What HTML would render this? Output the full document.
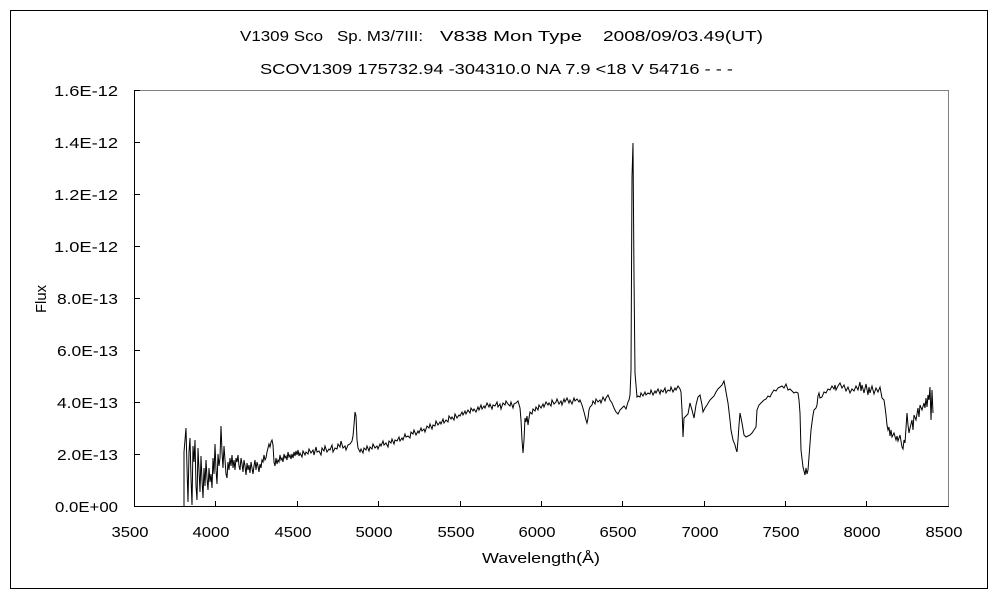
<!DOCTYPE html>
<html><head><meta charset="utf-8"><style>
html,body{margin:0;padding:0;background:#fff;}
svg{display:block;}
text{font-family:"Liberation Sans","Noto Sans CJK JP",sans-serif;font-size:15px;fill:#000;}
</style></head><body>
<svg width="1000" height="600" viewBox="0 0 1000 600" xmlns="http://www.w3.org/2000/svg">
<rect x="0" y="0" width="1000" height="600" fill="#fff"/>
<rect x="10.5" y="10.5" width="977" height="578" fill="none" stroke="#000" stroke-width="1"/>
<!-- titles -->
<text x="240" y="41" textLength="83" lengthAdjust="spacingAndGlyphs">V1309 Sco</text>
<text x="337" y="41" textLength="86" lengthAdjust="spacingAndGlyphs">Sp. M3/7III:</text>
<text x="440" y="41" textLength="142" lengthAdjust="spacingAndGlyphs">V838 Mon Type</text>
<text x="603" y="41" textLength="160" lengthAdjust="spacingAndGlyphs">2008/09/03.49(UT)</text>
<text x="260" y="74" textLength="473" lengthAdjust="spacingAndGlyphs">SCOV1309 175732.94 -304310.0 NA 7.9 &lt;18 V 54716 - - -</text>
<!-- plot frame -->
<line x1="134" y1="90.5" x2="948" y2="90.5" stroke="#808080" stroke-width="1"/>
<line x1="948.5" y1="90" x2="948.5" y2="506" stroke="#808080" stroke-width="1"/>
<line x1="134.5" y1="90" x2="134.5" y2="507" stroke="#000" stroke-width="1"/>
<line x1="134" y1="506.5" x2="949" y2="506.5" stroke="#000" stroke-width="1"/>
<!-- y ticks -->
<g stroke="#000" stroke-width="1">
<line x1="134" y1="454.5" x2="140" y2="454.5"/>
<line x1="134" y1="402.5" x2="140" y2="402.5"/>
<line x1="134" y1="350.5" x2="140" y2="350.5"/>
<line x1="134" y1="298.5" x2="140" y2="298.5"/>
<line x1="134" y1="246.5" x2="140" y2="246.5"/>
<line x1="134" y1="194.5" x2="140" y2="194.5"/>
<line x1="134" y1="142.5" x2="140" y2="142.5"/>
<line x1="134" y1="90.5" x2="140" y2="90.5"/>
<!-- x ticks -->
<line x1="215.5" y1="501" x2="215.5" y2="506"/>
<line x1="297.5" y1="501" x2="297.5" y2="506"/>
<line x1="378.5" y1="501" x2="378.5" y2="506"/>
<line x1="460.5" y1="501" x2="460.5" y2="506"/>
<line x1="541.5" y1="501" x2="541.5" y2="506"/>
<line x1="622.5" y1="501" x2="622.5" y2="506"/>
<line x1="704.5" y1="501" x2="704.5" y2="506"/>
<line x1="785.5" y1="501" x2="785.5" y2="506"/>
<line x1="866.5" y1="501" x2="866.5" y2="506"/>
</g>
<!-- y labels -->
<g text-anchor="end">
<text x="118" y="512" textLength="63" lengthAdjust="spacingAndGlyphs">0.0E+00</text>
<text x="118" y="460" textLength="61" lengthAdjust="spacingAndGlyphs">2.0E-13</text>
<text x="118" y="408" textLength="61" lengthAdjust="spacingAndGlyphs">4.0E-13</text>
<text x="118" y="356" textLength="61" lengthAdjust="spacingAndGlyphs">6.0E-13</text>
<text x="118" y="304" textLength="61" lengthAdjust="spacingAndGlyphs">8.0E-13</text>
<text x="118" y="252" textLength="64" lengthAdjust="spacingAndGlyphs">1.0E-12</text>
<text x="118" y="200" textLength="64" lengthAdjust="spacingAndGlyphs">1.2E-12</text>
<text x="118" y="148" textLength="64" lengthAdjust="spacingAndGlyphs">1.4E-12</text>
<text x="118" y="96" textLength="64" lengthAdjust="spacingAndGlyphs">1.6E-12</text>
</g>
<!-- x labels -->
<g text-anchor="middle">
<text x="130" y="537" textLength="37" lengthAdjust="spacingAndGlyphs">3500</text>
<text x="211" y="537" textLength="37" lengthAdjust="spacingAndGlyphs">4000</text>
<text x="293" y="537" textLength="37" lengthAdjust="spacingAndGlyphs">4500</text>
<text x="374" y="537" textLength="37" lengthAdjust="spacingAndGlyphs">5000</text>
<text x="456" y="537" textLength="37" lengthAdjust="spacingAndGlyphs">5500</text>
<text x="537" y="537" textLength="37" lengthAdjust="spacingAndGlyphs">6000</text>
<text x="618" y="537" textLength="37" lengthAdjust="spacingAndGlyphs">6500</text>
<text x="700" y="537" textLength="37" lengthAdjust="spacingAndGlyphs">7000</text>
<text x="781" y="537" textLength="37" lengthAdjust="spacingAndGlyphs">7500</text>
<text x="862" y="537" textLength="37" lengthAdjust="spacingAndGlyphs">8000</text>
<text x="944" y="537" textLength="37" lengthAdjust="spacingAndGlyphs">8500</text>
<text x="541" y="563" textLength="118" lengthAdjust="spacingAndGlyphs">Wavelength(Å)</text>
<text x="0" y="0" transform="translate(46,299) rotate(-90)" textLength="28" lengthAdjust="spacingAndGlyphs">Flux</text>
</g>
<!-- spectrum -->
<polyline fill="none" stroke="#000" stroke-width="1" stroke-linejoin="miter" points="
184,506 184,452 185,440 186,428 187,468 188,502 189,452 190,438 191,478 192,505 193,446 194,462 195,440 196,486 197,500 198,448 199,470 200,492 201,456 202,480 203,498 204,468 205,486 206,460 207,478 208,490 209,468 210,482 211,474 212,488 213,458 214,474 215,444 216,470 217,484 218,454 219,466 220,458 221,426 222,452 223,468 224,446 225,460 226,474 227,478 228,462 229,470 230,458
231,466 232,455 233,468 234,460 235,470 236,458 237,462 238,455 239,466 240,470 241,458 242,464 243,472 244,460 245,466 246,475 247,463 248,470 249,465 250,473 251,462 252,468 253,474 254,466 255,460 256,470 257,462 258,466 259,472 260,464 261,468 262,460 263,462 264,455 265,460 266,458 267,452 268,448 269,444 270,447 271,442 272,440 273,445 274,462 275,466 276,458 277,464 278,460 279,462 280,455 281,460 282,458 283,462 284,454 285,458 286,456 287,460 288,452 289,457 290,455 291,459 292,454 293,458 294,452 295,456 296,451 297,455 298,450 299,456 300,453
302,457 303,451 305,455 306,452 308,454 309,449 311,453 313,450 314,455 316,447 317,452 319,451 321,455 322,448 324,451 325,446 327,452 329,449 330,450 332,445 333,452 335,448 337,449 338,444 340,447 341,441 343,448 345,446 346,450 348,445 350,444 352,441 353,436 354,425 355,412 356,416 357,440 358,448
360,452 361,449 363,453 364,448 366,450 367,446 369,451 370,447 372,449 373,444 375,448 377,446 378,449 380,444 381,446 383,441 384,445 386,443 388,447 389,441 391,443 392,439 394,444 395,440 397,441 399,437 400,441 402,438 403,440 405,434 406,437 408,436 410,438 411,432 413,434 414,430 416,435 418,431 419,433 421,428 422,431 424,429 425,432 427,426 429,428 430,424 432,429 433,425 435,426 436,421 438,425 440,422 441,424 443,419 444,423 446,420 448,422 449,416 451,419 452,417 454,420 455,414 457,418 459,415 460,416 462,412 463,415 465,411 466,414 468,410 470,413 471,408 473,411 474,409 476,412 478,407 479,410 481,405 482,409 484,406 485,408 487,403 489,407 490,404 492,409 493,405 495,406 497,402 498,407 500,404 501,409 503,403 505,405 506,401 508,404 510,406 511,402 513,408 514,404 516,403 518,401 520,408
521,420 522,440 523,453 524,440 525,418 526,422 527,416 528,425 529,418 530,412 532,414 533,409 535,411 536,407 538,410 539,405 541,408 543,404 544,407 546,402 548,405 549,403 551,406 552,400 554,404 556,402 557,399 559,404 561,401 562,405 564,399 565,402 567,398 569,403 570,400 572,404 574,398 575,401 577,399 579,402 580,400 582,405 584,412 586,420 587,423 588,418 589,410 590,407 592,405 593,401 595,404 596,399 598,402 600,400 601,403 603,397 605,401 606,398 608,395 610,400 612,403 614,408 616,412 618,414 620,410 622,408 624,406 626,409 628,402 629,400 630,395 631,370 632,177 633,143 634,277 635,373 637,397
638,396 640,397 641,393 643,396 645,392 646,395 648,393 650,394 651,390 653,395 655,391 656,393 658,389 660,394 661,390 663,392 665,388 666,393 668,390 670,391 671,387 673,392 675,388 676,390 678,386 680,389 681,392 682,410 683,437 684,418 686,416 688,414 690,403 692,410 694,418 696,405 698,397 700,395 702,405 703,412 705,408 707,405 710,400 712,398 714,396 716,392 718,389 720,387 722,385 724,381 725,386 726,392 728,403 730,420 731,430 733,440 735,445 736,449 737,452 738,440 739,425 740,413 741,418 742,423 744,435 746,437 748,436 750,435 752,433 754,430 756,427 757,410 759,405 762,402 764,400 766,399 768,396 770,397 772,393 774,390 776,391 778,388 780,387 782,386 784,388 786,384 788,390 790,389 792,391 794,393 796,392 798,393 799,400 800,413 801,450 803,467 805,475 806,468 807,474 808,470 809,457 811,430 813,415 814,410 816,408 817,405 818,396 819,393 820,398 822,397 824,392 826,393 828,389 830,390 832,386 834,389 835,385 836,390 838,386 840,383 842,388 844,385 846,391 848,387 850,393 852,389 854,391 856,386 858,390 860,382 861,391 862,385 864,393 866,384 868,395 869,387 870,393 872,386 874,394 876,388 878,392 880,387 882,398 884,400 885,407 886,415 887,425 888,430 889,427 890,436 891,430 892,437 894,433 896,440 897,436 898,441 900,435 902,447 903,449 904,440 905,443 906,428 907,413 908,425 909,433 910,428 912,420 913,430 914,415 916,420 918,408 919,417 920,405 922,410 924,403 925,408 926,398 927,407 928,395 929,400 930,387 931,420 932,390 933,413"/>
</svg>
</body></html>
